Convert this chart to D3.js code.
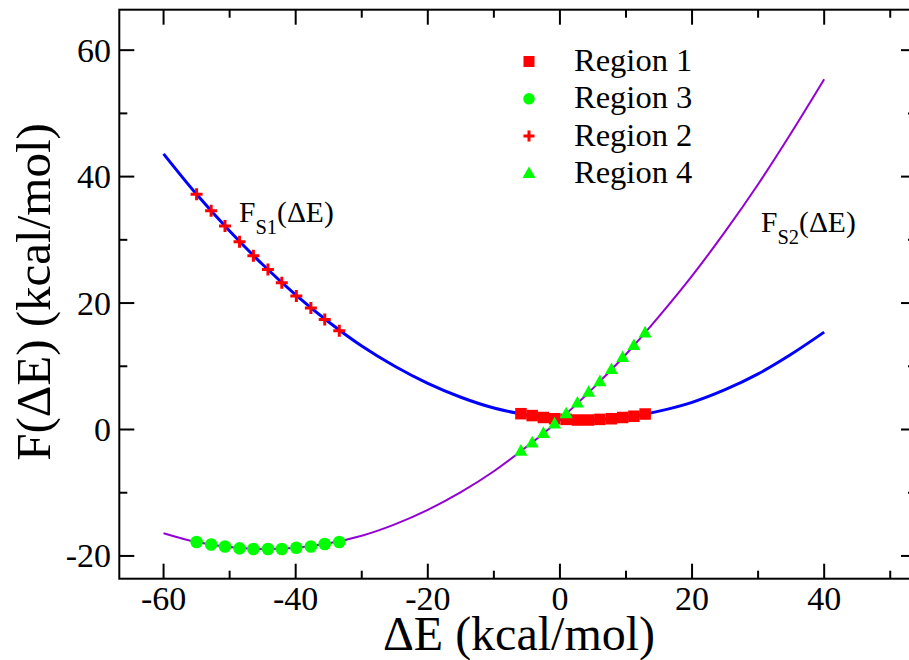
<!DOCTYPE html>
<html>
<head>
<meta charset="utf-8">
<script src="https://cdnjs.cloudflare.com/ajax/libs/d3/7.8.5/d3.min.js"></script>
<style>
  html, body { margin: 0; padding: 0; background: #fff; }
  svg { display: block; }
  text { font-family: "Liberation Serif", "Times New Roman", serif; fill: #000; }
</style>
</head>
<body>
<svg id="chart" width="909" height="660"></svg>
<script>
// ---- data ----
const curveX = [-60,-55,-50,-45,-40,-35,-30,-25,-20,-15,-10,-5,0,5,10,15,20,25,30,35,40];
const fS1 = [43.6,37.2,31.4,26.1,21.3,17.0,13.2,10.0,7.3,5.1,3.4,2.3,1.6,1.5,1.9,2.9,4.3,6.3,8.8,11.9,15.4];
const fS2 = [-16.4,-17.8,-18.6,-18.9,-18.7,-18.0,-16.8,-15.0,-12.7,-9.9,-6.6,-2.7,1.6,6.5,11.9,17.9,24.3,31.3,38.8,46.9,55.4];

const outerX = [-55.0,-52.8,-50.7,-48.5,-46.4,-44.2,-42.1,-39.9,-37.7,-35.6,-33.4];
const region2Y = [37.2,34.6,32.2,29.7,27.5,25.3,23.2,21.1,19.2,17.4,15.6];
const region3Y = [-17.8,-18.2,-18.5,-18.8,-18.9,-18.9,-18.9,-18.7,-18.5,-18.1,-17.8];

const innerX = [-5.9,-4.2,-2.5,-0.8,0.95,2.65,4.35,6.05,7.8,9.5,11.2,12.9];
const region1Y = [2.5,2.2,1.9,1.7,1.6,1.5,1.5,1.6,1.7,1.9,2.1,2.45];
const region4Y = [-3.4,-2.1,-0.6,0.9,2.5,4.2,5.9,7.6,9.5,11.4,13.3,15.3];

const xTicks = [-60,-40,-20,0,20,40];
const yTicks = [-20,0,20,40,60];
const legendLabels = ["Region 1","Region 3","Region 2","Region 4"];

// ---- layout ----
const svg = d3.select("#chart");
const x = d3.scaleLinear().domain([-66.7, 53.9]).range([119.3, 916]);
const y = d3.scaleLinear().domain([-23.6, 66.4]).range([578.7, 9.7]);
const [x0, x1] = x.range();
const [y0, y1] = y.range();

const RED = "#ff0000", GREEN = "#00ff00", BLUE = "#0000ff", PURPLE = "#9400d3";

// curves
const line = d3.line().x(d => x(d[0])).y(d => y(d[1])).curve(d3.curveCatmullRom.alpha(0.5));
svg.append("path").datum(curveX.map((v,i)=>[v,fS1[i]]))
  .attr("d", line).attr("fill","none").attr("stroke",BLUE).attr("stroke-width",3);
svg.append("path").datum(curveX.map((v,i)=>[v,fS2[i]]))
  .attr("d", line).attr("fill","none").attr("stroke",PURPLE).attr("stroke-width",2);

// marker helpers
function square(g, cx, cy, s) {
  g.append("rect").attr("x",cx-s/2).attr("y",cy-s/2).attr("width",s).attr("height",s).attr("fill",RED);
}
function circle(g, cx, cy, r) {
  g.append("circle").attr("cx",cx).attr("cy",cy).attr("r",r).attr("fill",GREEN);
}
function cross(g, cx, cy, s) {
  g.append("path").attr("d",`M${cx-s/2},${cy}H${cx+s/2}M${cx},${cy-s/2}V${cy+s/2}`)
   .attr("stroke",RED).attr("stroke-width",3).attr("fill","none");
}
function tri(g, cx, cy, s) {
  const h = s*0.9;
  g.append("path").attr("d",`M${cx},${cy-h*0.6}L${cx+s/2},${cy+h*0.4}L${cx-s/2},${cy+h*0.4}Z`).attr("fill",GREEN);
}

const marks = svg.append("g");
innerX.forEach((v,i)=>square(marks, x(v), y(region1Y[i]), 11.5));
outerX.forEach((v,i)=>circle(marks, x(v), y(region3Y[i]), 6.3));
outerX.forEach((v,i)=>cross(marks, x(v), y(region2Y[i]), 12));
innerX.forEach((v,i)=>tri(marks, x(v), y(region4Y[i]), 13));

// frame
const axis = svg.append("g").attr("stroke","#000").attr("stroke-width",2).attr("fill","none");
axis.append("rect").attr("x",x0).attr("y",y1).attr("width",x1-x0).attr("height",y0-y1);

const xMinor = d3.range(-60, 51, 10);
const yMinor = d3.range(-20, 61, 10);
xMinor.forEach(v => {
  const len = xTicks.includes(v) ? 15 : 8;
  axis.append("line").attr("x1",x(v)).attr("x2",x(v)).attr("y1",y0).attr("y2",y0-len);
  axis.append("line").attr("x1",x(v)).attr("x2",x(v)).attr("y1",y1).attr("y2",y1+len);
});
yMinor.forEach(v => {
  const len = yTicks.includes(v) ? 15 : 8;
  axis.append("line").attr("y1",y(v)).attr("y2",y(v)).attr("x1",x0).attr("x2",x0+len);
  axis.append("line").attr("y1",y(v)).attr("y2",y(v)).attr("x1",x1).attr("x2",x1-len);
});

// tick labels
svg.append("g").selectAll("text").data(xTicks).join("text")
  .attr("x", d => x(d)).attr("y", 610).attr("text-anchor","middle")
  .attr("font-size",34).text(d => d);
svg.append("g").selectAll("text").data(yTicks).join("text")
  .attr("x", 111).attr("y", d => y(d)+11.5).attr("text-anchor","end")
  .attr("font-size",34).text(d => d);

// axis titles
svg.append("text").attr("x",519).attr("y",650).attr("text-anchor","middle")
  .attr("font-size",48).text("ΔE (kcal/mol)");
svg.append("text").attr("transform","translate(50,292) rotate(-90)").attr("text-anchor","middle")
  .attr("font-size",49).text("F(ΔE) (kcal/mol)");

// annotations
function fLabel(px, py, sub) {
  const t = svg.append("text").attr("x",px).attr("y",py).attr("font-size",29.5);
  t.append("tspan").text("F");
  t.append("tspan").attr("font-size",20.5).attr("dy",11.5).text(sub);
  t.append("tspan").attr("dy",-11.5).text("(ΔE)");
}
fLabel(239, 222, "S1");
fLabel(761, 232, "S2");

// legend
const lg = svg.append("g");
const lgY = [61.5, 98.8, 136.1, 173.4];
square(lg, 529, lgY[0], 11);
circle(lg, 529, lgY[1], 5.8);
cross(lg, 529, lgY[2], 11);
tri(lg, 529, lgY[3], 13);
lg.selectAll("text").data(legendLabels).join("text")
  .attr("x",574).attr("y",(d,i)=>lgY[i]+9.5).attr("font-size",32.5).text(d=>d);
</script>
</body>
</html>
